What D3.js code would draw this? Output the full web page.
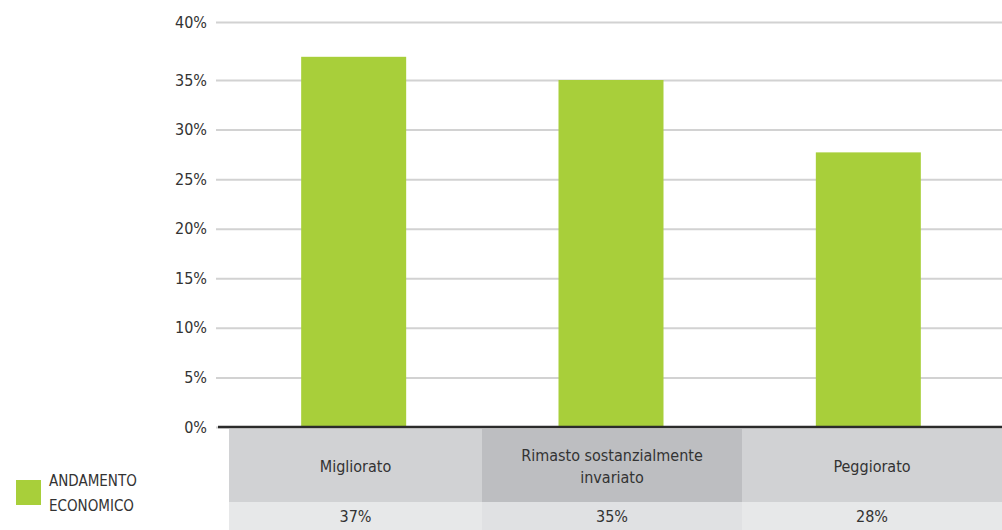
<!DOCTYPE html>
<html><head><meta charset="utf-8">
<script src="https://cdn.jsdelivr.net/npm/d3@7"></script>
<style>body{margin:0;background:#fff}svg{display:block}text{font-family:"DejaVu Sans Condensed","Liberation Sans Narrow",sans-serif;fill:#333}</style>
</head><body><svg id="c" width="1002" height="530"></svg>
<script>
const categories = ["Migliorato", "Rimasto sostanzialmente\ninvariato", "Peggiorato"];
const values = [37, 35, 27.7];
const valueLabels = ["37%", "35%", "28%"];
const yTicks = [0, 5, 10, 15, 20, 25, 30, 35, 40];
const seriesName = ["ANDAMENTO", "ECONOMICO"];

const svg = d3.select("#c");
const y = d3.scaleLinear().domain([0, 35, 40]).range([427, 80, 22]);
const x = d3.scaleBand().domain(categories).range([225, 997]);
const xt = d3.scaleBand().domain(categories).range([222, 1002]);
const tableLeft = 229;
const barW = 105;

// gridlines
const yAxis = d3.axisLeft(y).tickValues(yTicks).tickFormat(d => d + "%").tickSize(-786).tickPadding(9);
const ga = svg.append("g").attr("transform", "translate(216,0)").call(yAxis);
ga.select(".domain").remove();
ga.selectAll(".tick line").attr("stroke", "#d2d2d2").attr("stroke-width", 2);
ga.selectAll(".tick text").attr("font-size", 16).attr("fill", "#333").style("font-family", '"DejaVu Sans Condensed","Liberation Sans Narrow",sans-serif');

// bars
svg.append("g").selectAll("rect").data(categories).join("rect")
  .attr("x", d => x(d) + (x.bandwidth() - barW) / 2)
  .attr("width", barW)
  .attr("y", (d, i) => y(values[i]))
  .attr("height", (d, i) => y(0) - y(values[i]))
  .attr("fill", "#a8cf3a");

// table
const row1 = [429, 502], row2 = [502, 530];
const cx0 = d => Math.max(tableLeft, xt(d));
const cx1 = d => xt(d) + xt.bandwidth();
const tg = svg.append("g");
tg.selectAll("rect.h").data(categories).join("rect").attr("class", "h")
  .attr("x", cx0).attr("width", d => cx1(d) - cx0(d))
  .attr("y", row1[0]).attr("height", row1[1] - row1[0])
  .attr("fill", (d, i) => i === 1 ? "#bdbec1" : "#d1d2d4");
tg.selectAll("rect.v").data(categories).join("rect").attr("class", "v")
  .attr("x", cx0).attr("width", d => cx1(d) - cx0(d))
  .attr("y", row2[0]).attr("height", row2[1] - row2[0])
  .attr("fill", (d, i) => i === 1 ? "#e0e1e3" : "#e7e8e9");

tg.selectAll("text.c").data(categories).join("text").attr("class", "c")
  .attr("text-anchor", "middle").attr("font-size", 16)
  .each(function(d) {
    const lines = d.split("\n");
    const t = d3.select(this);
    const cx = (cx0(d) + cx1(d)) / 2;
    const mid = (row1[0] + row1[1]) / 2 + 6;
    lines.forEach((l, k) => {
      t.append("tspan").attr("x", cx).attr("y", mid + (k - (lines.length - 1) / 2) * 22).text(l);
    });
  });
tg.selectAll("text.v").data(categories).join("text").attr("class", "v")
  .attr("text-anchor", "middle").attr("font-size", 16)
  .attr("x", d => (cx0(d) + cx1(d)) / 2)
  .attr("y", (row2[0] + row2[1]) / 2 + 6)
  .text((d, i) => valueLabels[i]);

// axis baseline
svg.append("line").attr("x1", 218).attr("x2", 1002).attr("y1", y(0)).attr("y2", y(0))
  .attr("stroke", "#2b2b2b").attr("stroke-width", 2.5);

// legend
svg.append("rect").attr("x", 16).attr("y", 480).attr("width", 25).attr("height", 25).attr("fill", "#a8cf3a");
svg.append("text").attr("font-size", 15).selectAll("tspan").data(seriesName).join("tspan")
  .attr("x", 49).attr("y", (d, i) => 486 + i * 25).text(d => d);
</script></body></html>
